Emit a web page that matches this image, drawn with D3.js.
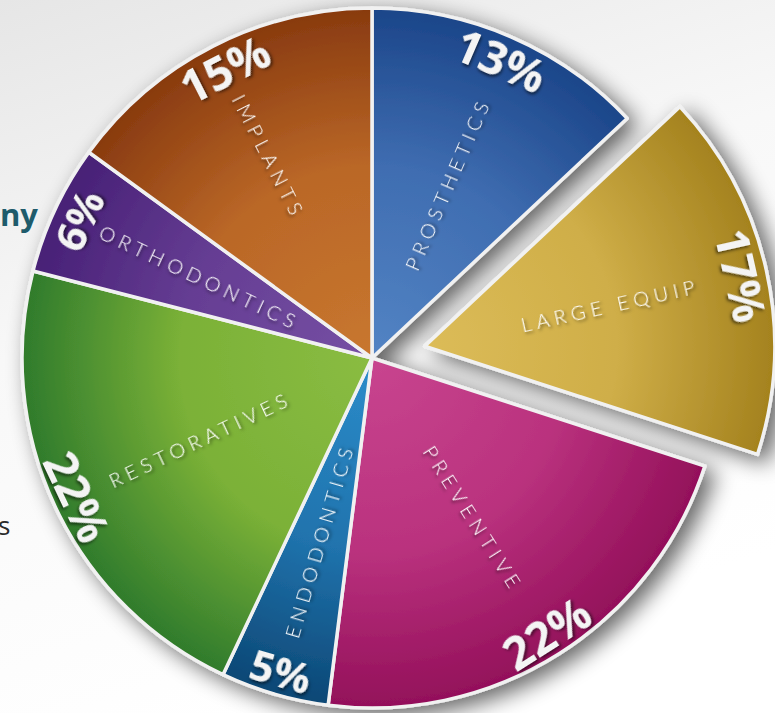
<!DOCTYPE html>
<html>
<head>
<meta charset="utf-8">
<script src="https://cdn.jsdelivr.net/npm/d3@7"></script>
<style>
  html, body { margin:0; padding:0; background:#fff; }
  svg { display:block; }
</style>
</head>
<body>
<svg id="myGraph" width="775" height="713"></svg>
<script>
// data
var categories = ["PROSTHETICS","LARGE EQUIP","PREVENTIVE","ENDODONTICS","RESTORATIVES","ORTHODONTICS","IMPLANTS"];
var shares = [13,17,22,5,22,6,15];
var pctLabels = ["13%","17%","22%","5%","22%","6%","15%"];
var explodedCategory = "LARGE EQUIP";

// colours: [light, base, dark]
var palette = [
  ["#5384c4","#3f6db1","#1b4589"],
  ["#dcbc58","#cfae48","#a4821e"],
  ["#c8458f","#ba327e","#93105a"],
  ["#2c8cca","#2073ad","#0c4775"],
  ["#8abc42","#7bb137","#2f7b2c"],
  ["#7650a4","#653d93","#472076"],
  ["#c8772f","#ba6727","#883a0f"]
];

var svgWidth = 775, svgHeight = 713;
var cx = 372, cy = 358, R = 350;
var explode = 54;

var svg = d3.select("#myGraph");
var defs = svg.append("defs");

// background
var bg = defs.append("linearGradient").attr("id","bg")
  .attr("x1",0).attr("y1",0).attr("x2",0.35).attr("y2",1);
bg.append("stop").attr("offset","0%").attr("stop-color","#e6e6e6");
bg.append("stop").attr("offset","45%").attr("stop-color","#f8f8f8");
bg.append("stop").attr("offset","100%").attr("stop-color","#ffffff");
svg.append("rect").attr("width",svgWidth).attr("height",svgHeight).attr("fill","url(#bg)");

// partial slide text behind the pie
svg.append("text").attr("x",0).attr("y",226)
  .attr("font-family","'Open Sans', sans-serif").attr("font-weight",700)
  .attr("font-size",31).attr("fill","#1e5b6b").text("ny");
svg.append("text").attr("x",-2).attr("y",535)
  .attr("font-family","'Open Sans', sans-serif")
  .attr("font-size",26).attr("fill","#2b2b2b").text("s");

// shadows
var sh = defs.append("filter").attr("id","pieShadow")
  .attr("x","-20%").attr("y","-20%").attr("width","140%").attr("height","140%");
sh.append("feGaussianBlur").attr("in","SourceAlpha").attr("stdDeviation",11).attr("result","b");
sh.append("feOffset").attr("in","b").attr("dx",9).attr("dy",7).attr("result","o");
sh.append("feComponentTransfer").attr("in","o").attr("result","o2")
  .append("feFuncA").attr("type","linear").attr("slope",0.6);
var m = sh.append("feMerge");
m.append("feMergeNode").attr("in","o2");
m.append("feMergeNode").attr("in","SourceGraphic");

var ts = defs.append("filter").attr("id","textShadow")
  .attr("x","-30%").attr("y","-30%").attr("width","160%").attr("height","160%");
ts.append("feDropShadow").attr("dx",1.5).attr("dy",2).attr("stdDeviation",1.6)
  .attr("flood-color","#000").attr("flood-opacity",0.55);

var pie = d3.pie().sort(null).value(function(d){ return d; });
var arcs = pie(shares);
var arc = d3.arc().innerRadius(0).outerRadius(R);

function mid(d){ return (d.startAngle + d.endAngle)/2; }
function polar(a, r){ return [r*Math.sin(a), -r*Math.cos(a)]; }

arcs.forEach(function(d,i){
  var g = defs.append("radialGradient").attr("id","g"+i)
    .attr("gradientUnits","userSpaceOnUse").attr("cx",0).attr("cy",0).attr("r",R);
  g.append("stop").attr("offset","0%").attr("stop-color",palette[i][0]);
  g.append("stop").attr("offset","55%").attr("stop-color",palette[i][1]);
  g.append("stop").attr("offset","100%").attr("stop-color",palette[i][2]);
});

var pieG = svg.append("g").attr("filter","url(#pieShadow)");

var slices = pieG.selectAll("g.slice")
  .data(arcs)
  .enter()
  .append("g")
  .attr("class","slice")
  .attr("transform",function(d,i){
    var off = categories[i] === explodedCategory ? polar(mid(d), explode) : [0,0];
    return "translate(" + (cx+off[0]) + "," + (cy+off[1]) + ")";
  });

slices.append("path")
  .attr("d", arc)
  .attr("fill", function(d,i){ return "url(#g"+i+")"; })
  .attr("stroke","#f1f1f1")
  .attr("stroke-width",3.5)
  .attr("stroke-linejoin","round");

var labelG = svg.append("g");
var labels = labelG.selectAll("g.lab")
  .data(arcs)
  .enter()
  .append("g")
  .attr("class","lab")
  .attr("transform",function(d,i){
    var off = categories[i] === explodedCategory ? polar(mid(d), explode) : [0,0];
    return "translate(" + (cx+off[0]) + "," + (cy+off[1]) + ")";
  });

// category names, radial
labels.append("text")
  .attr("transform",function(d,i){
    var a = mid(d), deg = a*180/Math.PI;
    var r = categories[i] === "IMPLANTS" ? 226 : 190;
    var p = polar(a, r);
    var rot = deg < 180 ? deg - 90 : deg + 90;
    return "translate(" + p[0] + "," + p[1] + ") rotate(" + rot + ")";
  })
  .attr("text-anchor","middle")
  .attr("dominant-baseline","central")
  .attr("font-family","Lato, 'DejaVu Sans', sans-serif")
  .attr("font-weight",300)
  .attr("font-size",20)
  .attr("letter-spacing",5.2)
  .attr("fill","#ffffff")
  .attr("filter","url(#textShadow)")
  .text(function(d,i){ return categories[i]; });

// percentages, tangential
labels.append("text")
  .attr("transform",function(d,i){
    var a = mid(d), deg = a*180/Math.PI;
    var p = polar(a, 325);
    var rot = (deg < 90 || deg > 270) ? deg : deg - 180;
    return "translate(" + p[0] + "," + p[1] + ") rotate(" + rot + ")";
  })
  .attr("text-anchor","middle")
  .attr("dominant-baseline","central")
  .attr("font-family","'Open Sans', sans-serif")
  .attr("font-weight",700)
  .attr("font-size",function(d,i){ return shares[i] < 10 ? 42 : 46; })
  .attr("fill","#f4f4f4")
  .attr("filter","url(#textShadow)")
  .text(function(d,i){ return pctLabels[i]; });
</script>
</body>
</html>
